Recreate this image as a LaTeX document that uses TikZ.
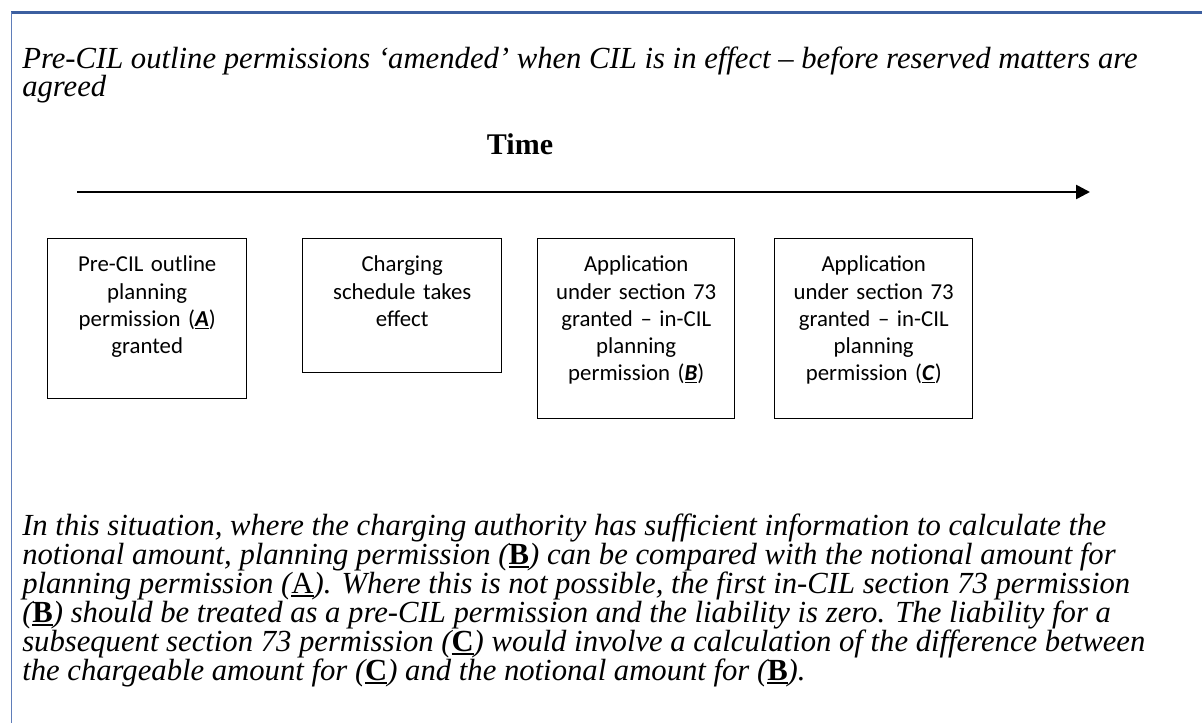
\documentclass[tikz,border=0pt]{standalone}
\usepackage{fontspec}
\setmainfont{Liberation Serif}
\newfontfamily\boxfont{Carlito}
\usetikzlibrary{arrows.meta}

% underlined key letter: #1 rule thickness, #2 drop below baseline, #3 text
\newcommand\keyul[3]{\setbox0\hbox{#3}\rlap{\rule[-#2]{\wd0}{#1}}\box0}
\newcommand\bx[1]{\keyul{1.1pt}{2.2pt}{\textbf{\textit{#1}}}}
\newcommand\pb[1]{\keyul{1.8pt}{3pt}{\textbf{\textup{#1}}}}
\newcommand\pa[1]{\keyul{1.3pt}{2.8pt}{\textup{#1}}}

\definecolor{framebluetop}{RGB}{60,95,160}
\definecolor{frameblueleft}{RGB}{95,125,185}

\begin{document}
\begin{tikzpicture}[x=0.75pt,y=-0.75pt,
  stagebox/.style={draw=black,line width=1.1pt,anchor=north west,inner sep=0pt},
  stagetext/.style={font=\boxfont\fontsize{17.1}{20.3}\selectfont,align=center,
    text width=194*0.75pt,inner sep=0pt,anchor=base},
  prose/.style={font=\fontsize{23}{26}\selectfont\itshape,anchor=base west,inner sep=0pt},
  timeline/.style={line width=1.9pt,-{Triangle[length=10.5pt,width=10.5pt]}}]
\useasboundingbox (0,0) rectangle (1202,723);

% frame
\draw[framebluetop,line width=1.6pt] (11,12.5) -- (1202,12.5);
\draw[frameblueleft,line width=0.8pt] (11.5,12) -- (11.5,723);

% heading
\node[prose] (head1) at (22,69) {Pre-CIL outline permissions ‘amended’ when CIL is in effect – before reserved matters are};
\node[prose] (head2) at (22,97) {agreed};

% time axis
\node[font=\fontsize{22.5}{26}\selectfont\bfseries,anchor=base,inner sep=0pt] (time) at (520,155) {Time};
\coordinate (tstart) at (77,192);
\coordinate (tend) at (1090,192);
\draw[timeline] (tstart) -- (tend);

% stages
\node[stagebox,minimum width=199*0.75pt,minimum height=160*0.75pt] (boxA) at (47,238) {};
\node[stagebox,minimum width=199*0.75pt,minimum height=134*0.75pt] (boxS) at (302,238) {};
\node[stagebox,minimum width=197*0.75pt,minimum height=180*0.75pt] (boxB) at (537,238) {};
\node[stagebox,minimum width=198*0.75pt,minimum height=180*0.75pt] (boxC) at (774,238) {};

\node[stagetext] (txtA) at (boxA.north |- 0,272) {Pre-CIL outline\\planning\\permission (\bx{A})\\granted};
\node[stagetext] (txtS) at (boxS.north |- 0,272) {Charging\\schedule takes\\effect};
\node[stagetext] (txtB) at (boxB.north |- 0,272) {Application\\under section 73\\granted – in-CIL\\planning\\permission (\bx{B})};
\node[stagetext] (txtC) at (boxC.north |- 0,272) {Application\\under section 73\\granted – in-CIL\\planning\\permission (\bx{C})};

% explanation
\node[prose] (p1) at (22,535) {In this situation, where the charging authority has sufficient information to calculate the};
\node[prose] (p2) at (22,564) {notional amount, planning permission (\pb{B}) can be compared with the notional amount for};
\node[prose] (p3) at (22,593) {planning permission (\pa{A}). Where this is not possible, the first in-CIL section 73 permission};
\node[prose] (p4) at (22,622) {(\pb{B}) should be treated as a pre-CIL permission and the liability is zero. The liability for a};
\node[prose] (p5) at (22,651) {subsequent section 73 permission (\pb{C}) would involve a calculation of the difference between};
\node[prose] (p6) at (22,680) {the chargeable amount for (\pb{C}) and the notional amount for (\pb{B}).};
\end{tikzpicture}
\end{document}
